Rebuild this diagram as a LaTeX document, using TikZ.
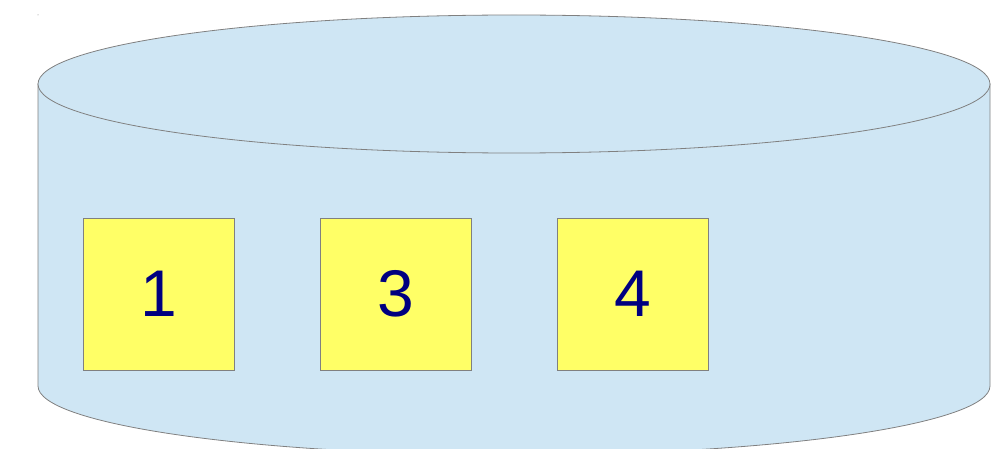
\documentclass[tikz,border=0pt]{standalone}
\usepackage{fontspec}
\setmainfont{Liberation Sans}
\definecolor{cylfill}{RGB}{207,230,244}
\definecolor{boxfill}{RGB}{255,255,102}
\definecolor{edgegrey}{RGB}{128,128,128}
\definecolor{numcol}{RGB}{0,0,128}
\tikzset{
  slot/.style={draw=edgegrey, line width=0.8pt, fill=boxfill, minimum width=151pt, minimum height=152pt, inner sep=0pt, text=numcol, font=\fontsize{66}{66}\selectfont},
  cyl/.style={draw=edgegrey, line width=0.8pt, fill=cylfill}
}
\begin{document}
\begin{tikzpicture}[x=1pt,y=1pt]
\useasboundingbox (0,0) rectangle (1008,448);
\clip (0,0) rectangle (1008,448);
% cylinder body
\path[cyl] (38,364) -- (38,62) arc[start angle=180,end angle=360,x radius=476,y radius=69] -- (990,364) -- cycle;
% top ellipse
\path[cyl] (514,364) ellipse[x radius=476,y radius=69];
% tiny speck
\fill[edgegrey] (38,433) circle[radius=0.5];
% slots
\node[slot] (s1) at (158.5,154) {1};
\node[slot] (s3) at (395.5,154) {3};
\node[slot] (s4) at (632.5,154) {4};
\end{tikzpicture}
\end{document}
